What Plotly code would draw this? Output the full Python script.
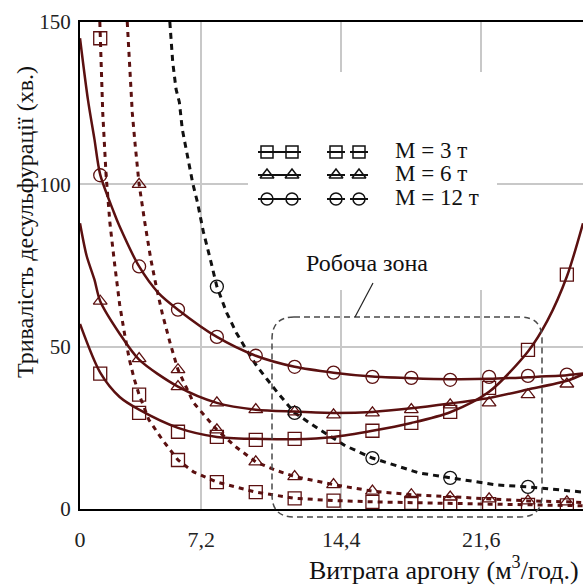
import plotly.graph_objects as go

# ---------------- data (x: argon flow, m3/h ; y: desulfurization time, min) -------------
x_range = [0.96, 26.83]
y_range = [0, 150]
x_tick_vals = [0.96, 7.2, 14.4, 21.6]
x_tick_text = ["0", "7,2", "14,4", "21,6"]
y_tick_vals = [0, 50, 100, 150]

# measured points (markers)
meas_x = [2, 4, 6, 8, 10, 12, 14, 16, 18, 20, 22, 24, 26]
fit3_marks = [41.7, 29.6, 23.8, 22.2, 21.3, 21.6, 22.2, 24.1, 26.5, 29.9, 37.3, 49.0, 72.2]
fit6_marks = [64.0, 46.3, 37.7, 32.7, 30.6, 29.9, 29.0, 29.6, 30.6, 32.1, 32.7, 35.2, 38.5]
fit12_marks = [102.8, 74.7, 61.4, 53.0, 47.2, 43.8, 42.0, 40.7, 40.4, 39.8, 40.7, 41.0, 41.4]

dot3_marks_x = [2, 4, 6, 8, 10, 12, 14, 16, 18, 20, 22, 24, 26]
dot3_marks = [145, 35.2, 15.1, 8.3, 5.2, 3.3, 2.6, 2.2, 1.9, 1.8, 1.5, 1.3, 1.1]
dot6_marks_x = [4, 6, 8, 10, 12, 14, 16, 18, 20, 22, 24, 26]
dot6_marks = [100, 42.9, 24.4, 14.5, 10.0, 7.5, 5.5, 4.4, 3.7, 3.1, 2.5, 2.2]
dot12_marks_x = [8, 12, 16, 20, 24]
dot12_marks = [68.5, 29.6, 15.7, 9.6, 6.8]

# solid (approximation) curves
fit3_x = [0.96, 2, 3, 4, 6, 8, 10, 12, 14, 16, 18, 20, 22, 24, 25, 26, 26.83]
fit3_y = [57, 42, 34.5, 30.6, 25, 22.2, 21.6, 21.5, 22.2, 24.1, 26.5, 29.8, 36.1, 48.5, 58, 71.6, 88]
fit6_x = [0.96, 1.3, 1.7, 2, 3, 4, 6, 8, 10, 12, 14, 16, 18, 20, 22, 24, 26, 26.83]
fit6_y = [88, 78, 70.7, 64, 54, 46, 37.7, 32.7, 30.6, 30, 29.6, 29.9, 31, 32.5, 34.2, 36.8, 39.5, 41.5]
fit12_x = [0.96, 1.37, 1.7, 2, 2.7, 3, 4, 5, 6, 8, 10, 12, 14, 16, 18, 20, 22, 24, 26, 26.83]
fit12_y = [145, 126, 114, 103, 91.4, 87, 74.7, 66.5, 61.4, 53, 47.2, 43.8, 42, 40.8, 40.3, 40, 40.1, 40.6, 41.2, 41.7]

# dotted curves
dot3_x = [1.98, 2.0, 2.13, 2.3, 2.5, 2.75, 3.0, 3.25, 3.5, 3.75, 4.0, 4.5, 5.2, 6, 6.8, 8, 9, 10, 12, 14, 16, 18, 20, 22, 24, 26, 26.83]
dot3_y = [150, 145, 122, 103, 88, 75, 63, 54, 46, 40, 35.2, 27.5, 21.3, 15.1, 11.4, 8.3, 6.8, 5.2, 3.3, 2.6, 2.2, 1.9, 1.8, 1.5, 1.3, 1.1, 1.0]
dot6_x = [3.39, 3.5, 3.65, 3.8, 4.0, 4.3, 4.6, 4.9, 5.2, 5.6, 6.0, 6.8, 8, 9, 10, 11, 12, 14, 16, 18, 20, 22, 24, 26, 26.83]
dot6_y = [150, 137, 122, 112, 100, 88, 77, 68, 60, 51, 42.9, 32.7, 24.4, 19, 14.5, 12, 10, 7.5, 5.5, 4.4, 3.7, 3.1, 2.5, 2.2, 2.0]
dot12_x = [5.58, 5.73, 5.9, 6.07, 6.22, 6.5, 6.76, 7.0, 7.3, 7.7, 8.0, 8.5, 9.0, 9.5, 10.0, 10.6, 11.1, 12.0, 13.3, 14.6, 16.0, 18.4, 20.0, 22.4, 24.0, 26.83]
dot12_y = [150, 137.6, 129.3, 125.3, 117, 108, 100.3, 94.5, 85.5, 76, 68.5, 60.5, 54.3, 49.2, 44.5, 39.8, 36, 29.6, 24.4, 19.5, 15.7, 11.1, 9.6, 7.4, 6.8, 5.2]

legend_labels = ["M = 3 т", "M = 6 т", "M = 12 т"]
zone_label = "Робоча зона"
x_title = "Витрата аргону (м<sup>3</sup>/год.)"
y_title = "Тривалість десульфурації (хв.)"

# ---------------- styling -------------
BROWN = "#5b1010"
BLACK = "#111111"
FONT = "Liberation Serif"
W, H = 583, 585
L, R, T, B = 80, 583, 22, 509  # plot area in pixels


def paper(px, py):
    return (px - L) / (R - L), (B - py) / (B - T)


def data_x(px):
    return x_range[0] + (px - L) / (R - L) * (x_range[1] - x_range[0])


def data_y(py):
    return y_range[0] + (B - py) / (B - T) * (y_range[1] - y_range[0])


fig = go.Figure()


def line_trace(x, y, color, dash, width, shape="linear"):
    fig.add_trace(go.Scatter(x=x, y=y, mode="lines", showlegend=False, hoverinfo="skip",
                             line=dict(color=color, width=width, dash=dash, shape=shape,
                                       smoothing=0.8 if shape == "spline" else None)))


def mark_trace(x, y, color, symbol, size):
    fig.add_trace(go.Scatter(x=x, y=y, mode="markers", showlegend=False, hoverinfo="skip",
                             marker=dict(symbol=symbol, size=size, color=color,
                                         line=dict(color=color, width=1.3))))


line_trace(dot3_x, dot3_y, BROWN, "5px,5px", 3)
line_trace(dot6_x, dot6_y, BROWN, "5px,5px", 3)
line_trace(dot12_x, dot12_y, BLACK, "6px,5px", 3)
line_trace(fit3_x, fit3_y, BROWN, "solid", 2.5, "spline")
line_trace(fit6_x, fit6_y, BROWN, "solid", 2.5, "spline")
line_trace(fit12_x, fit12_y, BROWN, "solid", 2.5, "spline")

mark_trace(meas_x, fit3_marks, BROWN, "square-open", 13)
mark_trace(meas_x, fit6_marks, BROWN, "triangle-up-open", 12)
mark_trace(meas_x, fit12_marks, BROWN, "circle-open", 13)
mark_trace(dot3_marks_x, dot3_marks, BROWN, "square-open", 13)
mark_trace(dot6_marks_x, dot6_marks, BROWN, "triangle-up-open", 12)
mark_trace(dot12_marks_x, dot12_marks, BLACK, "circle-open", 13)

# ---------------- custom legend (pixel overlay axes) -------------
leg_rows = [152, 175, 199]
leg_syms = ["square-open", "triangle-up-open", "circle-open"]
for row, sym in zip(leg_rows, leg_syms):
    fig.add_trace(go.Scatter(x=[258, 301], y=[row, row], mode="lines", xaxis="x2", yaxis="y2",
                             showlegend=False, hoverinfo="skip",
                             line=dict(color=BLACK, width=2)))
    fig.add_trace(go.Scatter(x=[327, 345, None, 350, 368], y=[row, row, None, row, row], mode="lines",
                             xaxis="x2", yaxis="y2", showlegend=False, hoverinfo="skip",
                             line=dict(color=BLACK, width=2)))
    fig.add_trace(go.Scatter(x=[267, 292, 336, 359], y=[row] * 4, mode="markers", xaxis="x2", yaxis="y2",
                             showlegend=False, hoverinfo="skip",
                             marker=dict(symbol=sym, size=12, color=BLACK, line=dict(color=BLACK, width=1.5))))

annotations = []
for row, lab in zip(leg_rows, legend_labels):
    px_, py_ = paper(393, row - 2)
    annotations.append(dict(x=px_, y=py_, xref="paper", yref="paper", text=lab, showarrow=False,
                            xanchor="left", yanchor="middle", font=dict(family=FONT, size=23, color=BLACK)))

zx, zy = paper(367, 263)
annotations.append(dict(x=zx, y=zy, xref="paper", yref="paper", text=zone_label, showarrow=False,
                        xanchor="center", yanchor="middle", font=dict(family=FONT, size=24, color=BLACK)))
tx, ty = paper(444, 568)
annotations.append(dict(x=tx, y=ty, xref="paper", yref="paper", text=x_title, showarrow=False,
                        xanchor="center", yanchor="middle", font=dict(family=FONT, size=26, color=BLACK)))
yx, yy = paper(25, 222)
annotations.append(dict(x=yx, y=yy, xref="paper", yref="paper", text=y_title, showarrow=False,
                        textangle=-90, xanchor="center", yanchor="middle",
                        font=dict(family=FONT, size=24, color=BLACK)))

# rounded dashed "working zone" box in paper coords
xl, yt = paper(272, 317)
xr, yb = paper(542, 517)
rx, ry = 22 / (R - L), 22 / (B - T)
box_path = (f"M {xl + rx},{yt} L {xr - rx},{yt} Q {xr},{yt} {xr},{yt - ry} "
            f"L {xr},{yb + ry} Q {xr},{yb} {xr - rx},{yb} L {xl + rx},{yb} "
            f"Q {xl},{yb} {xl},{yb + ry} L {xl},{yt - ry} Q {xl},{yt} {xl + rx},{yt} Z")
p1 = paper(373, 283)
p2 = paper(355, 317)
shapes = [
    dict(type="rect", xref="x", yref="y", x0=data_x(248), x1=data_x(497), y0=data_y(290), y1=data_y(72),
         fillcolor="white", line=dict(width=0), layer="between"),
    dict(type="path", xref="paper", yref="paper", path=box_path,
         line=dict(color="#4a4a4a", width=1.5, dash="6px,4px")),
    dict(type="line", xref="paper", yref="paper", x0=p1[0], y0=p1[1], x1=p2[0], y1=p2[1],
         line=dict(color="#222222", width=1.2)),
]

fig.update_layout(
    width=W, height=H,
    margin=dict(l=L, r=W - R, t=T, b=H - B, pad=0),
    paper_bgcolor="white", plot_bgcolor="white",
    showlegend=False,
    font=dict(family=FONT, color=BLACK),
    annotations=annotations,
    shapes=shapes,
    xaxis=dict(range=x_range, tickvals=x_tick_vals, ticktext=x_tick_text, showgrid=True,
               gridcolor="#c8c8c8", gridwidth=1.5, zeroline=False, showline=True, linecolor="black",
               linewidth=2, mirror=True, ticks="", ticklabelstandoff=10,
               tickfont=dict(family=FONT, size=22, color="#222222")),
    yaxis=dict(range=y_range, tickvals=y_tick_vals, showgrid=True, gridcolor="#c8c8c8", gridwidth=1.5,
               zeroline=False, showline=True, linecolor="black", linewidth=2, ticks="",
               ticklabelstandoff=3, tickfont=dict(family=FONT, size=21, color="#222222")),
    xaxis2=dict(overlaying="x", range=[L, R], visible=False),
    yaxis2=dict(overlaying="y", range=[B, T], visible=False),
)

fig.write_html("out.html", config={"displayModeBar": False},
               post_script="document.body.style.margin='0';document.body.style.overflow='hidden';")
